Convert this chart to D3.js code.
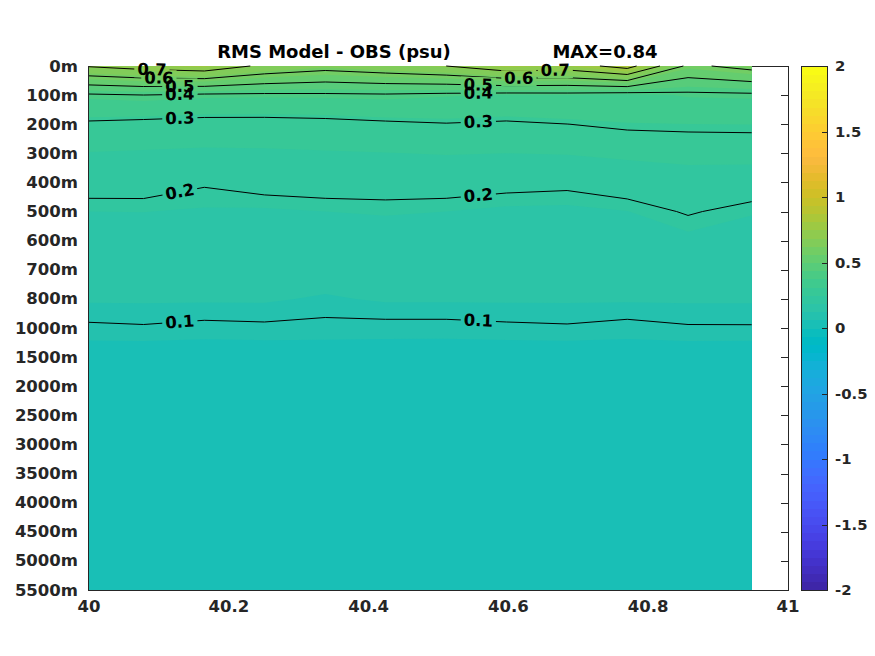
<!DOCTYPE html>
<html><head><meta charset="utf-8">
<script src="https://cdn.jsdelivr.net/npm/d3@7"></script>
<style>
body{margin:0;background:#fff;}
svg{display:block;font-family:"DejaVu Sans",sans-serif;font-weight:bold;}
</style>
</head><body>
<svg id="chart" width="875" height="656"></svg>
<script>
// ---------------- DATA ----------------
const titleLeft = "RMS Model - OBS (psu)";
const titleRight = "MAX=0.84";
const lonNodes = [40.000, 40.078, 40.165, 40.251, 40.338, 40.424, 40.511, 40.597, 40.684, 40.770, 40.857, 40.948];
const depthLabels = ["0m","100m","200m","300m","400m","500m","600m","700m","800m","1000m","1500m","2000m","2500m","3000m","3500m","4000m","4500m","5000m","5500m"];
const rms0m    = [0.708, 0.741, 0.765, 0.680, 0.639, 0.667, 0.700, 0.768, 0.752, 0.840, 0.580, 0.634];
const rms100m  = [0.388, 0.399, 0.386, 0.384, 0.386, 0.390, 0.380, 0.371, 0.373, 0.360, 0.380, 0.384];
const rms200m  = [0.289, 0.281, 0.274, 0.274, 0.279, 0.289, 0.297, 0.291, 0.2995, 0.310, 0.312, 0.313];
const rms300m  = [0.248, 0.246, 0.244, 0.245, 0.247, 0.249, 0.252, 0.250, 0.252, 0.260, 0.267, 0.2685];
const rms400m  = [0.215, 0.215, 0.203, 0.212, 0.215, 0.215, 0.215, 0.210, 0.207, 0.217, 0.225, 0.220];
const rms500m  = [0.1875, 0.1879, 0.185, 0.184, 0.1875, 0.190, 0.1875, 0.1825, 0.1818, 0.187, 0.203, 0.1897];
const rms600m  = [0.172, 0.172, 0.170, 0.170, 0.171, 0.173, 0.172, 0.170, 0.169, 0.172, 0.1806, 0.173];
const rms700m  = [0.152, 0.153, 0.151, 0.150, 0.150, 0.152, 0.152, 0.151, 0.150, 0.152, 0.156, 0.153];
const rms800m  = [0.130, 0.130, 0.130, 0.130, 0.120, 0.130, 0.130, 0.130, 0.130, 0.130, 0.130, 0.130];
const rms1000m = [0.0927, 0.0959, 0.0892, 0.0922, 0.0887, 0.0872, 0.0872, 0.0922, 0.0952, 0.0872, 0.0959, 0.0962];
const rms1500m = [0.022, 0.021, 0.020, 0.021, 0.024, 0.022, 0.021, 0.020, 0.021, 0.022, 0.021, 0.020];
const rms2000m = [0.015, 0.015, 0.014, 0.015, 0.016, 0.015, 0.015, 0.014, 0.015, 0.015, 0.015, 0.014];
const rms2500m = [0.013, 0.013, 0.012, 0.013, 0.013, 0.013, 0.013, 0.012, 0.013, 0.013, 0.013, 0.012];
const rms3000m = [0.011, 0.011, 0.011, 0.011, 0.012, 0.011, 0.011, 0.011, 0.011, 0.011, 0.011, 0.011];
const rms3500m = [0.010, 0.010, 0.010, 0.010, 0.010, 0.010, 0.010, 0.010, 0.010, 0.010, 0.010, 0.010];
const rms4000m = [0.009, 0.009, 0.009, 0.009, 0.009, 0.009, 0.009, 0.009, 0.009, 0.009, 0.009, 0.009];
const rms4500m = [0.009, 0.009, 0.009, 0.009, 0.009, 0.009, 0.009, 0.009, 0.009, 0.009, 0.009, 0.009];
const rms5000m = [0.008, 0.008, 0.008, 0.008, 0.008, 0.008, 0.008, 0.008, 0.008, 0.008, 0.008, 0.008];
const rms5500m = [0.008, 0.008, 0.008, 0.008, 0.008, 0.008, 0.008, 0.008, 0.008, 0.008, 0.008, 0.008];
const contourLevels = [0.1, 0.2, 0.3, 0.4, 0.5, 0.6, 0.7, 0.8];
const labelAnchors = [
  {level:0.7, lon:40.090}, {level:0.6, lon:40.100}, {level:0.5, lon:40.130}, {level:0.4, lon:40.130},
  {level:0.3, lon:40.130}, {level:0.2, lon:40.130}, {level:0.1, lon:40.130},
  {level:0.5, lon:40.557}, {level:0.4, lon:40.557}, {level:0.3, lon:40.557}, {level:0.2, lon:40.557},
  {level:0.1, lon:40.557}, {level:0.6, lon:40.615}, {level:0.7, lon:40.667}
];
const xTicks = [40, 40.2, 40.4, 40.6, 40.8, 41];
const cbTicks = [-2, -1.5, -1, -0.5, 0, 0.5, 1, 1.5, 2];
const parula = [
[0.2422,0.1504,0.6603],[0.2504,0.1650,0.7076],[0.2578,0.1818,0.7511],[0.2647,0.1978,0.7952],
[0.2706,0.2147,0.8364],[0.2751,0.2342,0.8710],[0.2783,0.2559,0.8991],[0.2803,0.2782,0.9221],
[0.2813,0.3006,0.9414],[0.2810,0.3228,0.9579],[0.2795,0.3447,0.9717],[0.2760,0.3667,0.9829],
[0.2699,0.3892,0.9906],[0.2602,0.4123,0.9952],[0.2440,0.4358,0.9988],[0.2206,0.4603,0.9973],
[0.1963,0.4847,0.9892],[0.1834,0.5074,0.9798],[0.1786,0.5289,0.9682],[0.1764,0.5499,0.9520],
[0.1687,0.5703,0.9359],[0.1540,0.5902,0.9218],[0.1460,0.6091,0.9079],[0.1380,0.6276,0.8973],
[0.1248,0.6459,0.8883],[0.1113,0.6635,0.8763],[0.0952,0.6798,0.8598],[0.0689,0.6948,0.8394],
[0.0297,0.7082,0.8163],[0.0036,0.7203,0.7917],[0.0067,0.7312,0.7660],[0.0433,0.7411,0.7394],
[0.0964,0.7500,0.7120],[0.1408,0.7584,0.6842],[0.1717,0.7670,0.6554],[0.1938,0.7758,0.6251],
[0.2161,0.7843,0.5923],[0.2470,0.7918,0.5567],[0.2906,0.7973,0.5188],[0.3406,0.8008,0.4789],
[0.3909,0.8029,0.4354],[0.4456,0.8024,0.3909],[0.5044,0.7993,0.3480],[0.5616,0.7942,0.3045],
[0.6174,0.7876,0.2612],[0.6720,0.7793,0.2227],[0.7242,0.7698,0.1910],[0.7738,0.7598,0.1646],
[0.8203,0.7498,0.1535],[0.8634,0.7406,0.1596],[0.9035,0.7330,0.1774],[0.9393,0.7288,0.2100],
[0.9728,0.7298,0.2394],[0.9956,0.7434,0.2371],[0.9970,0.7659,0.2199],[0.9952,0.7893,0.2028],
[0.9892,0.8136,0.1885],[0.9786,0.8386,0.1766],[0.9676,0.8639,0.1643],[0.9610,0.8890,0.1537],
[0.9597,0.9135,0.1423],[0.9628,0.9373,0.1265],[0.9691,0.9606,0.1064],[0.9769,0.9839,0.0805]
];
const rows = [rms0m, rms100m, rms200m, rms300m, rms400m, rms500m, rms600m, rms700m, rms800m, rms1000m,
              rms1500m, rms2000m, rms2500m, rms3000m, rms3500m, rms4000m, rms4500m, rms5000m, rms5500m];

// ---------------- LAYOUT ----------------
const W = 875, H = 656;
const L = 89, R = 788, T = 66, B = 590;
const axisColor = "#262626";
const svg = d3.select("#chart");
svg.append("rect").attr("width", W).attr("height", H).attr("fill", "#fff");

const nx = lonNodes.length, ny = rows.length;
const values = rows.flat();
const x = d3.scaleLinear().domain([40, 41]).range([L, R]);
const y = d3.scaleLinear().domain([0, ny - 1]).range([T, B]);
const idx2lon = d3.scaleLinear().domain(d3.range(nx)).range(lonNodes);
const clamp = (v, a, b) => Math.max(a, Math.min(b, v));
const toPix = (ix, iy) => [x(idx2lon(ix)), y(iy)];
const proj = p => toPix(clamp(p[0] - 0.5, 0, nx - 1), clamp(p[1] - 0.5, 0, ny - 1));
const fmt = p => p[0].toFixed(2) + "," + p[1].toFixed(2);

const cmin = -2, cmax = 2, nC = parula.length, step = (cmax - cmin) / nC;
const colorOf = k => { const c = parula[clamp(k, 0, nC - 1)]; return d3.rgb(c[0] * 255, c[1] * 255, c[2] * 255).formatHex(); };

// axes box and ticks (below the data layer)
const axG = svg.append("g").attr("stroke", axisColor).attr("stroke-width", 1).attr("shape-rendering", "crispEdges");
axG.append("line").attr("x1", L - 0.5).attr("x2", L - 0.5).attr("y1", T).attr("y2", B + 1);
axG.append("line").attr("x1", L - 1).attr("x2", R + 1).attr("y1", B + 0.5).attr("y2", B + 0.5);
axG.append("line").attr("x1", R + 0.5).attr("x2", R + 0.5).attr("y1", T).attr("y2", B + 1);
axG.append("line").attr("x1", L - 1).attr("x2", R + 1).attr("y1", T + 0.5).attr("y2", T + 0.5);
depthLabels.forEach((d, i) => {
  const yy = Math.round(y(i)) + 0.5;
  axG.append("line").attr("x1", L).attr("x2", L + 7).attr("y1", yy).attr("y2", yy);
  axG.append("line").attr("x1", R - 7).attr("x2", R).attr("y1", yy).attr("y2", yy);
});
xTicks.forEach(t => {
  const xx = Math.round(x(t)) + 0.5;
  axG.append("line").attr("x1", xx).attr("x2", xx).attr("y1", B - 7).attr("y2", B);
  axG.append("line").attr("x1", xx).attr("x2", xx).attr("y1", T).attr("y2", T + 7);
});

// filled bands (colormap-quantised)
const fillTh = d3.range(nC).map(k => cmin + k * step);
const fills = d3.contours().size([nx, ny]).thresholds(fillTh)(values);
const pathOf = mp => mp.coordinates.map(poly => poly.map(ring => "M" + ring.map(p => fmt(proj(p))).join("L") + "Z").join("")).join("");
svg.append("g").selectAll("path")
  .data(fills.filter(c => c.coordinates.length))
  .join("path")
  .attr("d", pathOf)
  .attr("fill-rule", "evenodd")
  .attr("fill", c => colorOf(Math.round((c.value - cmin) / step)));

// contour lines
const lineContours = d3.contours().size([nx, ny]).thresholds(contourLevels)(values);
const segsByLevel = new Map();
lineContours.forEach(c => {
  const segs = []; let d = "";
  c.coordinates.forEach(poly => poly.forEach(ring => {
    const pts = ring.map(p => [clamp(p[0] - 0.5, 0, nx - 1), clamp(p[1] - 0.5, 0, ny - 1)]);
    const n = pts.length;
    const closed = n > 1 && pts[0][0] === pts[n - 1][0] && pts[0][1] === pts[n - 1][1];
    const m = closed ? n - 1 : n;
    let open = false;
    for (let i = 0; i < m; i++) {
      const a = pts[i], b = pts[(i + 1) % n];
      const edge = (a[0] <= 0 && b[0] <= 0) || (a[0] >= nx - 1 && b[0] >= nx - 1) ||
                   (a[1] <= 0 && b[1] <= 0) || (a[1] >= ny - 1 && b[1] >= ny - 1);
      if (edge) { open = false; continue; }
      const pa = toPix(a[0], a[1]), pb = toPix(b[0], b[1]);
      if (!open) { d += "M" + fmt(pa); open = true; }
      d += "L" + fmt(pb);
      segs.push([pa, pb]);
    }
  }));
  segsByLevel.set(c.value, segs);
  c.d = d;
});

const defs = svg.append("defs");
const mask = defs.append("mask").attr("id", "lblmask").attr("maskUnits", "userSpaceOnUse")
  .attr("x", 0).attr("y", 0).attr("width", W).attr("height", H);
mask.append("rect").attr("width", W).attr("height", H).attr("fill", "#fff");

svg.append("g").attr("mask", "url(#lblmask)")
  .selectAll("path").data(lineContours).join("path")
  .attr("d", c => c.d).attr("fill", "none").attr("stroke", "#000").attr("stroke-width", 1);

// contour labels
const lblG = svg.append("g");
labelAnchors.forEach(a => {
  const segs = segsByLevel.get(a.level) || [];
  const px = x(a.lon);
  let best = null;
  segs.forEach(([p, q]) => {
    if (best) return;
    if ((p[0] - px) * (q[0] - px) <= 0 && p[0] !== q[0]) {
      const t = (px - p[0]) / (q[0] - p[0]);
      const py = p[1] + t * (q[1] - p[1]);
      let ang = Math.atan2(q[1] - p[1], q[0] - p[0]) * 180 / Math.PI;
      if (ang > 90) ang -= 180;
      if (ang < -90) ang += 180;
      best = {py, ang};
    }
  });
  if (!best) return;
  const tr = `rotate(${best.ang.toFixed(2)},${px.toFixed(2)},${best.py.toFixed(2)})`;
  const txt = lblG.append("text").attr("x", px).attr("y", best.py)
    .attr("text-anchor", "middle").attr("dominant-baseline", "central")
    .attr("font-size", 16.5).attr("fill", "#000").attr("transform", tr)
    .text(d3.format(".1f")(a.level));
  const w = txt.node().getComputedTextLength();
  mask.append("rect").attr("x", px - w / 2 - 3).attr("y", best.py - 8).attr("width", w + 6).attr("height", 16)
    .attr("fill", "#000").attr("transform", tr);
});

// tick labels
const tG = svg.append("g").attr("fill", axisColor).attr("font-size", 16.5);
depthLabels.forEach((d, i) => {
  tG.append("text").attr("x", 78).attr("y", y(i)).attr("text-anchor", "end").attr("dominant-baseline", "central").text(d);
});
xTicks.forEach(t => {
  tG.append("text").attr("x", x(t)).attr("y", 612).attr("text-anchor", "middle").text(d3.format("~g")(t));
});

// titles
svg.append("text").attr("x", 334).attr("y", 58).attr("text-anchor", "middle").attr("font-size", 18).attr("fill", "#000").text(titleLeft);
svg.append("text").attr("x", 605).attr("y", 58).attr("text-anchor", "middle").attr("font-size", 18).attr("fill", "#000").text(titleRight);

// colorbar
const cbL = 802, cbR = 827;
const cy = d3.scaleLinear().domain([cmin, cmax]).range([B, T]);
const cbG = svg.append("g").attr("shape-rendering", "crispEdges");
cbG.selectAll("rect").data(parula).join("rect")
  .attr("x", cbL).attr("width", cbR - cbL)
  .attr("y", (c, k) => cy(cmin + (k + 1) * step))
  .attr("height", (c, k) => cy(cmin + k * step) - cy(cmin + (k + 1) * step) + 0.6)
  .attr("fill", (c, k) => colorOf(k));
const cbA = svg.append("g").attr("stroke", axisColor).attr("shape-rendering", "crispEdges");
cbA.append("rect").attr("x", cbL - 0.5).attr("y", T + 0.5).attr("width", cbR - cbL + 1).attr("height", B - T).attr("fill", "none");
cbTicks.forEach(t => {
  const yy = Math.round(cy(t)) + 0.5;
  cbA.append("line").attr("x1", cbR - 5).attr("x2", cbR).attr("y1", yy).attr("y2", yy);
});
const cbT = svg.append("g").attr("fill", axisColor).attr("font-size", 14.85);
cbTicks.forEach(t => {
  cbT.append("text").attr("x", 835).attr("y", cy(t)).attr("dominant-baseline", "central").text(d3.format("~g")(t).replace("−", "-"));
});
</script>
</body></html>
